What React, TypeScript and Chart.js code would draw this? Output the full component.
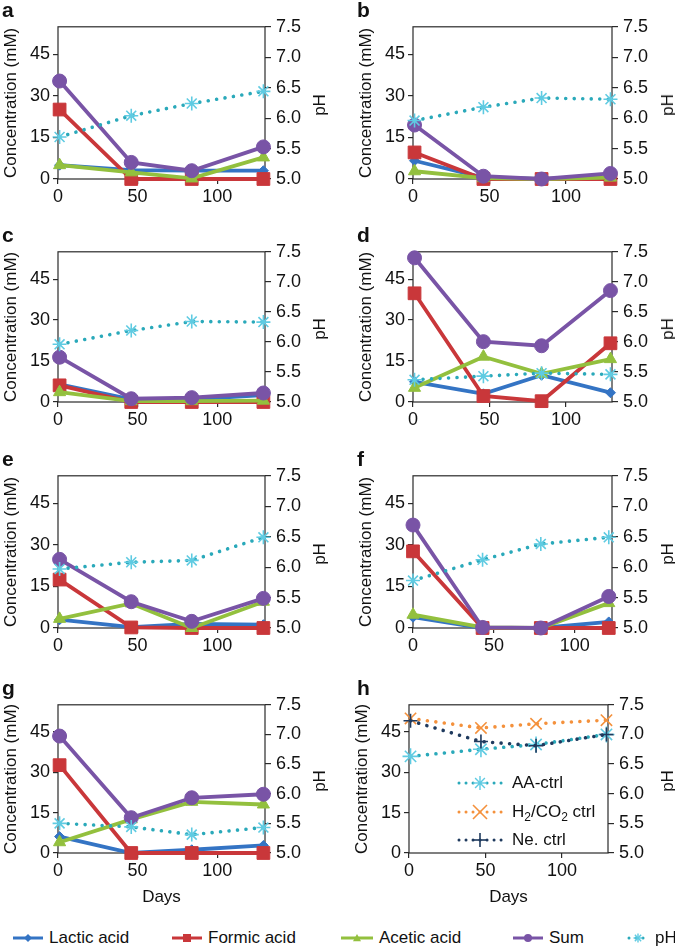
import React, { useEffect, useRef } from 'react';
import { Chart, registerables } from 'chart.js';

Chart.register(...registerables);

const FONT = '"Liberation Sans", Arial, Helvetica, sans-serif';
const TEXT = '#111111';
const AXIS = '#2a2a2a';

// ---- colours ----
const C_LACTIC = '#3474c4';
const C_FORMIC = '#c9373a';
const C_ACETIC = '#93c03e';
const C_SUM = '#7954a6';
const C_PH = '#2aa9ba';
const C_PH_MARK = '#5fcbe2';
const C_H2 = '#f4913c';
const C_NE = '#1f3a5e';

// ---- axes ----
const X_TICKS = [0, 50, 100];
const CONC_TICKS = [0, 15, 30, 45];
const PH_TICKS = [5.0, 5.5, 6.0, 6.5, 7.0, 7.5];

// ---- sampling days ----
const DAYS = [1, 46, 84, 129];
const DAYS_F = [0, 43, 79, 121];
const DAYS_H = [1, 47, 83, 129];

// ---- panel a ----
const A_LACTIC = [5.0, 3.2, 3.0, 3.0];
const A_FORMIC = [25.1, 0, 0, 0];
const A_ACETIC = [5.0, 2.4, 0.2, 7.8];
const A_SUM = [35.4, 6.0, 3.0, 11.6];
const A_PH = [5.69, 6.04, 6.24, 6.44];
// ---- panel b ----
const B_LACTIC = [6.6, 0.5, 0, 0.5];
const B_FORMIC = [9.6, 0, 0, 0];
const B_ACETIC = [2.8, 0.3, 0, 0.5];
const B_SUM = [19.5, 1.0, 0, 2.0];
const B_PH = [5.96, 6.18, 6.33, 6.31];
// ---- panel c ----
const C_LAC = [6.5, 1.0, 1.0, 2.5];
const C_FOR = [6.1, 0, 0, 0];
const C_ACE = [3.6, 0.3, 0.3, 0.5];
const C_SUMV = [16.4, 1.2, 1.6, 3.3];
const C_PHV = [5.96, 6.19, 6.34, 6.33];
// ---- panel d ----
const D_LACTIC = [7.4, 3.0, 9.8, 3.4];
const D_FORMIC = [39.8, 2.2, 0.3, 21.5];
const D_ACETIC = [5.2, 16.6, 10.3, 15.7];
const D_SUM = [52.8, 22.1, 20.6, 40.8];
const D_PH = [5.37, 5.43, 5.48, 5.46];
// ---- panel e ----
const E_LACTIC = [3.0, 0.3, 1.5, 1.2];
const E_FORMIC = [17.5, 0.2, 0, 0];
const E_ACETIC = [3.3, 8.9, 0, 9.5];
const E_SUM = [24.8, 9.5, 2.4, 10.7];
const E_PH = [5.97, 6.08, 6.11, 6.49];
// ---- panel f ----
const F_LACTIC = [3.9, 0, 0, 2.2];
const F_FORMIC = [27.7, 0, 0, 0];
const F_ACETIC = [4.8, 0.2, 0, 9.0];
const F_SUM = [37.2, 0.2, 0, 11.4];
const F_PH = [5.78, 6.12, 6.38, 6.49];
// ---- panel g ----
const G_LACTIC = [6.1, 0, 1.2, 2.8];
const G_FORMIC = [32.6, 0, 0, 0];
const G_ACETIC = [4.0, 12.5, 19.0, 18.0];
const G_SUM = [43.4, 13.1, 20.5, 21.8];
const G_PH = [5.50, 5.44, 5.31, 5.43];
// ---- panel h (controls, pH) ----
const H_AA = [6.63, 6.75, 6.83, 7.0];
const H_H2CO2 = [7.27, 7.11, 7.18, 7.24];
const H_NE = [7.23, 6.88, 6.81, 7.0];

const ROW_TOP = [25, 250, 474, 703];
const ROW_BOTTOM = [179, 402, 628, 853];

function pts(days: number[], vals: number[]) {
  return days.map((d, i) => ({ x: d, y: vals[i] }));
}

function solid(label: string, days: number[], vals: number[], color: string, style: string, radius: number, order: number) {
  return {
    label,
    data: pts(days, vals),
    yAxisID: 'y',
    borderColor: color,
    backgroundColor: color,
    borderWidth: 3.8,
    pointStyle: style,
    pointRadius: radius,
    pointBackgroundColor: color,
    pointBorderColor: color,
    pointBorderWidth: 1,
    tension: 0,
    clip: false as any,
    order,
  };
}

function dotted(label: string, days: number[], vals: number[], color: string, markColor: string, style: string, radius: number, order: number) {
  return {
    label,
    data: pts(days, vals),
    yAxisID: 'y1',
    borderColor: color,
    backgroundColor: markColor,
    borderWidth: 3.6,
    borderDash: [0.01, 8.5],
    borderCapStyle: 'round',
    pointStyle: style,
    pointRadius: radius,
    pointBackgroundColor: markColor,
    pointBorderColor: markColor,
    pointBorderWidth: 1.6,
    tension: 0,
    clip: false as any,
    order,
  };
}

function acidSets(days: number[], lac: number[], form: number[], ace: number[], sum: number[], ph: number[]) {
  return [
    solid('Lactic acid', days, lac, C_LACTIC, 'rectRot', 5, 5),
    solid('Formic acid', days, form, C_FORMIC, 'rect', 9, 4),
    solid('Acetic acid', days, ace, C_ACETIC, 'triangle', 7, 3),
    solid('Sum', days, sum, C_SUM, 'circle', 7, 2),
    dotted('pH', days, ph, C_PH, C_PH_MARK, 'star', 7, 1),
  ];
}

const framePlugin = {
  id: 'frame',
  beforeDatasetsDraw(chart: any) {
    const { ctx, chartArea } = chart;
    ctx.save();
    ctx.strokeStyle = AXIS;
    ctx.lineWidth = 1.2;
    ctx.strokeRect(chartArea.left, chartArea.top, chartArea.right - chartArea.left, chartArea.bottom - chartArea.top);
    ctx.restore();
  },
};

type Geo = { L: number; T: number; W: number; H: number; px0: number; px1: number; py0: number; py1: number; xh: number };

function geom(col: number, row: number, isH: boolean): Geo {
  const px0 = col === 0 ? 58 : isH ? 409 : 413;
  const px1 = col === 0 ? 265 : isH ? 608 : 612;
  const L = px0 - 58;
  const W = col === 0 ? 335 : 675 - L;
  const py0 = ROW_TOP[row];
  const py1 = ROW_BOTTOM[row];
  const T = py0 - 14;
  const xh = row === 3 ? 62 : 32;
  const H = py1 - T + xh;
  return { L, T, W, H, px0, px1, py0, py1, xh };
}

function makeOptions(g: Geo, xMax: number, showDays: boolean) {
  const tickFont = { family: FONT, size: 18 };
  const titleFont = { family: FONT, size: 17 };
  return {
    responsive: false,
    maintainAspectRatio: false,
    animation: false,
    events: [],
    layout: { padding: { top: g.py0 - g.T, left: 0, right: 0, bottom: 0 } },
    plugins: { legend: { display: false }, tooltip: { enabled: false }, title: { display: false } },
    scales: {
      x: {
        type: 'linear',
        position: 'bottom',
        min: 0,
        max: xMax,
        afterBuildTicks: (s: any) => { s.ticks = X_TICKS.map((v) => ({ value: v })); },
        ticks: { color: TEXT, font: tickFont, padding: 2, maxRotation: 0, autoSkip: false },
        grid: { drawOnChartArea: false, drawTicks: true, tickLength: 5, color: AXIS, lineWidth: 1.2 },
        border: { display: false },
        title: { display: showDays, text: 'Days', color: TEXT, font: titleFont, padding: { top: 0, bottom: 7 } },
        afterFit: (s: any) => { s.height = g.xh; },
      },
      y: {
        type: 'linear',
        position: 'left',
        min: 0,
        max: 55,
        afterBuildTicks: (s: any) => { s.ticks = CONC_TICKS.map((v) => ({ value: v })); },
        ticks: { color: TEXT, font: tickFont, padding: 3 },
        grid: { drawOnChartArea: false, drawTicks: true, tickLength: 5, color: AXIS, lineWidth: 1.2 },
        border: { display: false },
        title: { display: true, text: 'Concentration (mM)', color: TEXT, font: titleFont, padding: { top: 1, bottom: 0 } },
        afterFit: (s: any) => { s.width = g.px0 - g.L; },
      },
      y1: {
        type: 'linear',
        position: 'right',
        min: 5,
        max: 7.5,
        afterBuildTicks: (s: any) => { s.ticks = PH_TICKS.map((v) => ({ value: v })); },
        ticks: { color: TEXT, font: tickFont, padding: 5, callback: (v: any) => Number(v).toFixed(1) },
        grid: { drawOnChartArea: false, drawTicks: true, tickLength: 6, color: AXIS, lineWidth: 1.2 },
        border: { display: false },
        afterFit: (s: any) => { s.width = g.L + g.W - g.px1; },
      },
    },
  };
}

function Panel({ g, datasets, xMax, showDays }: { g: Geo; datasets: any[]; xMax: number; showDays: boolean }) {
  const ref = useRef<HTMLCanvasElement>(null);
  useEffect(() => {
    const chart = new Chart(ref.current as HTMLCanvasElement, {
      type: 'line',
      data: { datasets },
      options: makeOptions(g, xMax, showDays) as any,
      plugins: [framePlugin],
    });
    return () => chart.destroy();
  }, []);
  return (
    <canvas
      ref={ref}
      width={g.W}
      height={g.H}
      style={{ position: 'absolute', left: g.L, top: g.T, width: g.W, height: g.H }}
    />
  );
}

function Marker({ kind, color, mark, dottedLine, w, r }: { kind: string; color: string; mark: string; dottedLine?: boolean; w: number; r: number }) {
  const h = 18;
  const cx = w / 2;
  const cy = h / 2;
  let shape: any = null;
  if (kind === 'diamond') shape = <polygon points={`${cx - r},${cy} ${cx},${cy - r} ${cx + r},${cy} ${cx},${cy + r}`} fill={mark} />;
  if (kind === 'square') shape = <rect x={cx - r} y={cy - r} width={2 * r} height={2 * r} fill={mark} />;
  if (kind === 'triangle') shape = <polygon points={`${cx},${cy - r} ${cx + r},${cy + r * 0.8} ${cx - r},${cy + r * 0.8}`} fill={mark} />;
  if (kind === 'circle') shape = <circle cx={cx} cy={cy} r={r} fill={mark} />;
  if (kind === 'star')
    shape = (
      <g stroke={mark} strokeWidth={1.4}>
        <line x1={cx - r} y1={cy} x2={cx + r} y2={cy} />
        <line x1={cx} y1={cy - r} x2={cx} y2={cy + r} />
        <line x1={cx - r * 0.7} y1={cy - r * 0.7} x2={cx + r * 0.7} y2={cy + r * 0.7} />
        <line x1={cx - r * 0.7} y1={cy + r * 0.7} x2={cx + r * 0.7} y2={cy - r * 0.7} />
      </g>
    );
  if (kind === 'x')
    shape = (
      <g stroke={mark} strokeWidth={1.6}>
        <line x1={cx - r} y1={cy - r} x2={cx + r} y2={cy + r} />
        <line x1={cx - r} y1={cy + r} x2={cx + r} y2={cy - r} />
      </g>
    );
  if (kind === 'plus')
    shape = (
      <g stroke={mark} strokeWidth={1.6}>
        <line x1={cx - r} y1={cy} x2={cx + r} y2={cy} />
        <line x1={cx} y1={cy - r} x2={cx} y2={cy + r} />
      </g>
    );
  return (
    <svg width={w} height={h} style={{ position: 'absolute', left: 0, top: 0, overflow: 'visible' }}>
      <line
        x1={dottedLine ? 2 : 0}
        y1={cy}
        x2={w}
        y2={cy}
        stroke={color}
        strokeWidth={3}
        strokeDasharray={dottedLine ? '0.01 7' : undefined}
        strokeLinecap={dottedLine ? 'round' : 'butt'}
      />
      {shape}
    </svg>
  );
}

const LEGEND_LABELS = ['Lactic acid', 'Formic acid', 'Acetic acid', 'Sum', 'pH'];
const LEGEND_KINDS = ['diamond', 'square', 'triangle', 'circle', 'star'];
const LEGEND_COLORS = [C_LACTIC, C_FORMIC, C_ACETIC, C_SUM, C_PH];
const LEGEND_MARKS = [C_LACTIC, C_FORMIC, C_ACETIC, C_SUM, C_PH_MARK];
const LEGEND_X = [13, 172, 341, 513, 627];
const LEGEND_W = [30, 30, 32, 30, 22];

const H_LABELS = ['AA-ctrl', 'H2/CO2 ctrl', 'Ne. ctrl'];
const H_KINDS = ['star', 'x', 'plus'];
const H_COLORS = [C_PH, C_H2, C_NE];
const H_MARKS = [C_PH_MARK, C_H2, C_NE];
const H_LEG_Y = [783, 812, 840];

function HLabel({ text }: { text: string }) {
  if (text === 'H2/CO2 ctrl') {
    return (
      <span>
        H<sub style={{ fontSize: 12, verticalAlign: -4 }}>2</sub>/CO<sub style={{ fontSize: 12, verticalAlign: -4 }}>2</sub> ctrl
      </span>
    );
  }
  return <span>{text}</span>;
}

const PANELS = [
  { letter: 'a', col: 0, row: 0, xMax: 130, sets: () => acidSets(DAYS, A_LACTIC, A_FORMIC, A_ACETIC, A_SUM, A_PH) },
  { letter: 'b', col: 1, row: 0, xMax: 130, sets: () => acidSets(DAYS, B_LACTIC, B_FORMIC, B_ACETIC, B_SUM, B_PH) },
  { letter: 'c', col: 0, row: 1, xMax: 130, sets: () => acidSets(DAYS, C_LAC, C_FOR, C_ACE, C_SUMV, C_PHV) },
  { letter: 'd', col: 1, row: 1, xMax: 130, sets: () => acidSets(DAYS, D_LACTIC, D_FORMIC, D_ACETIC, D_SUM, D_PH) },
  { letter: 'e', col: 0, row: 2, xMax: 130, sets: () => acidSets(DAYS, E_LACTIC, E_FORMIC, E_ACETIC, E_SUM, E_PH) },
  { letter: 'f', col: 1, row: 2, xMax: 123, sets: () => acidSets(DAYS_F, F_LACTIC, F_FORMIC, F_ACETIC, F_SUM, F_PH) },
  { letter: 'g', col: 0, row: 3, xMax: 130, sets: () => acidSets(DAYS, G_LACTIC, G_FORMIC, G_ACETIC, G_SUM, G_PH) },
  {
    letter: 'h', col: 1, row: 3, xMax: 130,
    sets: () => [
      dotted('AA-ctrl', DAYS_H, H_AA, C_PH, C_PH_MARK, 'star', 8, 3),
      dotted('H2/CO2 ctrl', DAYS_H, H_H2CO2, C_H2, C_H2, 'crossRot', 8, 2),
      dotted('Ne. ctrl', DAYS_H, H_NE, C_NE, C_NE, 'cross', 7, 1),
    ],
  },
];

export default function App() {
  return (
    <div style={{ position: 'absolute', left: 0, top: 0, width: 675, height: 949, background: '#fff', fontFamily: FONT, color: TEXT, overflow: 'hidden' }}>
      {PANELS.map((p) => {
        const g = geom(p.col, p.row, p.letter === 'h');
        const midY = (g.py0 + g.py1) / 2 + 3;
        const phX = p.col === 0 ? 320 : 668;
        return (
          <React.Fragment key={p.letter}>
            <Panel g={g} datasets={p.sets()} xMax={p.xMax} showDays={p.row === 3} />
            <div style={{ position: 'absolute', left: p.col === 0 ? 2 : 357, top: g.py0 - 27, fontSize: 21, fontWeight: 'bold', lineHeight: '24px' }}>{p.letter}</div>
            <div
              style={{
                position: 'absolute', left: phX, top: midY, fontSize: 17, lineHeight: '20px', whiteSpace: 'nowrap',
                transform: 'translate(-50%, -50%) rotate(-90deg)',
              }}
            >
              pH
            </div>
          </React.Fragment>
        );
      })}

      {H_LABELS.map((t, i) => (
        <div key={t} style={{ position: 'absolute', left: 457, top: H_LEG_Y[i] - 10, height: 20 }}>
          <div style={{ position: 'absolute', left: 0, top: 1, width: 46, height: 18 }}>
            <Marker kind={H_KINDS[i]} color={H_COLORS[i]} mark={H_MARKS[i]} dottedLine w={46} r={7} />
          </div>
          <div style={{ position: 'absolute', left: 55, top: 0, fontSize: 17, lineHeight: '20px', whiteSpace: 'nowrap' }}>
            <HLabel text={t} />
          </div>
        </div>
      ))}

      {LEGEND_LABELS.map((t, i) => (
        <div key={t} style={{ position: 'absolute', left: LEGEND_X[i], top: 928, height: 20 }}>
          <div style={{ position: 'absolute', left: 0, top: 1, width: LEGEND_W[i], height: 18 }}>
            <Marker kind={LEGEND_KINDS[i]} color={LEGEND_COLORS[i]} mark={LEGEND_MARKS[i]} dottedLine={i === 4} w={LEGEND_W[i]} r={i === 4 ? 4.5 : 4} />
          </div>
          <div style={{ position: 'absolute', left: LEGEND_W[i] + 6, top: 0, fontSize: 17, lineHeight: '20px', whiteSpace: 'nowrap' }}>{t}</div>
        </div>
      ))}
    </div>
  );
}
